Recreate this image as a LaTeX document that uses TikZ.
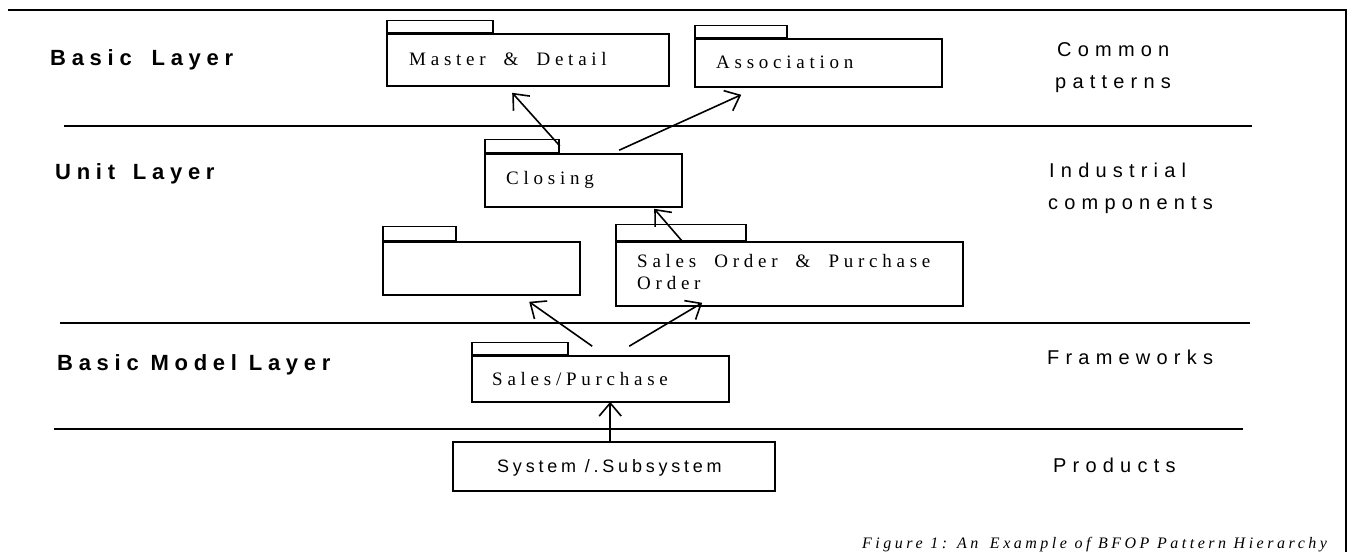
\documentclass[tikz,border=0pt]{standalone}
\usepackage{fontspec}
\setmainfont{Liberation Serif}
\newfontfamily\boxfont{Liberation Serif}[LetterSpace=25,WordSpace=1.9]
\newfontfamily\layerfont{Liberation Sans}[LetterSpace=26]
\newfontfamily\sidefont{Liberation Sans}[LetterSpace=31]
\newfontfamily\sysfont{Liberation Sans}[LetterSpace=21]
\newfontfamily\capfont{Liberation Serif}[LetterSpace=22]
\usetikzlibrary{arrows.meta}

\tikzset{
  rule/.style={line width=1.8pt},
  pkgbody/.style={draw, line width=1.6pt, rectangle, inner sep=0pt},
  pkgtab/.style={draw, line width=1.6pt, rectangle, inner sep=0pt, anchor=south west},
  boxtext/.style={anchor=base west, inner sep=0pt, font=\boxfont\fontsize{19pt}{22pt}\selectfont},
  layerlabel/.style={anchor=base west, inner sep=0pt, font=\layerfont\bfseries\fontsize{22pt}{25pt}\selectfont},
  sidelabel/.style={anchor=base west, inner sep=0pt, font=\sidefont\fontsize{20pt}{23pt}\selectfont},
  dep/.style={line width=1.6pt, -{Straight Barb[length=13pt,width=22pt,line width=1.6pt]}},
}

\begin{document}
\begin{tikzpicture}[x=1pt, y=-1pt]
  \useasboundingbox (0,0) rectangle (1353,552);

  % outer frame (top and right edges)
  \draw[rule] (8,10) -- (1346,10) -- (1346,552);

  % layer separators
  \draw[rule] (64,126) -- (1252,126);
  \draw[rule] (60,323) -- (1250,323);
  \draw[rule] (54,429) -- (1243,429);

  % layer names
  \node[layerlabel] (lbasic) at (50,65) {Basic\hspace{8pt} Layer};
  \node[layerlabel] (lunit) at (55,179) {Unit\hspace{6pt} Layer};
  \node[layerlabel] (lmodel) at (57,370) {Basic Model Layer};

  % layer descriptions
  \node[sidelabel] (dcommon) at (1057,56) {Common};
  \node[sidelabel] (dpatterns) at (1055,88) {patterns};
  \node[sidelabel] (dindustrial) at (1049,177) {Industrial};
  \node[sidelabel] (dcomponents) at (1048,209) {components};
  \node[sidelabel] (dframeworks) at (1047,364) {Frameworks};
  \node[sidelabel] (dproducts) at (1053,472) {Products};

  % packages: body + tab
  \node[pkgbody, minimum width=282pt, minimum height=52pt] (master) at (528,60) {};
  \node[pkgtab, minimum width=106pt, minimum height=12pt] (mastertab) at (master.north west) {};
  \node[boxtext] (mastertext) at (409,65) {Master \& Detail};

  \node[pkgbody, minimum width=247pt, minimum height=48pt] (assoc) at (818.5,63) {};
  \node[pkgtab, minimum width=92pt, minimum height=12pt] (assoctab) at (assoc.north west) {};
  \node[boxtext] (assoctext) at (716,68) {Association};

  \node[pkgbody, minimum width=197pt, minimum height=53pt] (closing) at (583.5,180.5) {};
  \node[pkgtab, minimum width=74pt, minimum height=13pt] (closingtab) at (closing.north west) {};
  \node[boxtext] (closingtext) at (506,184) {Closing};

  \node[pkgbody, minimum width=197pt, minimum height=53pt] (empty) at (481.5,268.5) {};
  \node[pkgtab, minimum width=73pt, minimum height=14pt] (emptytab) at (empty.north west) {};

  \node[pkgbody, minimum width=347pt, minimum height=64pt] (salesorder) at (789.5,274) {};
  \node[pkgtab, minimum width=130pt, minimum height=16pt] (salesordertab) at (salesorder.north west) {};
  \node[boxtext] (salesordertext) at (637,267) {Sales Order \& Purchase};
  \node[boxtext] (salesordertextb) at (637,289) {Order};

  \node[pkgbody, minimum width=257pt, minimum height=46pt] (salespurchase) at (600.5,379) {};
  \node[pkgtab, minimum width=96pt, minimum height=12pt] (salespurchasetab) at (salespurchase.north west) {};
  \node[boxtext] (salespurchasetext) at (492,385) {Sales/Purchase};

  % product box
  \node[pkgbody, minimum width=322pt, minimum height=49pt] (system) at (614,466.5) {};
  \node[anchor=base west, inner sep=0pt, font=\sysfont\fontsize{18pt}{21pt}\selectfont] (systemtext) at (497,472) {System /.Subsystem};

  % dependencies
  \draw[dep] (closingtab.east) -- ([xshift=126pt,yshift=-6pt]master.south west);
  \draw[dep] ([xshift=135pt,yshift=3pt]closing.north west) -- ([xshift=47pt,yshift=-7pt]assoc.south west);
  \draw[dep] ([xshift=67pt]salesorder.north west) -- ([xshift=170pt,yshift=-1pt]closing.south west);
  \draw[dep] ([xshift=121pt,yshift=9pt]salespurchase.north west) -- ([xshift=147pt,yshift=-6pt]empty.south west);
  \draw[dep] ([xshift=158pt,yshift=9pt]salespurchase.north west) -- ([xshift=87pt,yshift=4pt]salesorder.south west);
  \draw[dep] ([xshift=158pt]system.north west) -- ([xshift=139pt,yshift=1pt]salespurchase.south west);

  % caption
  \node[anchor=base west, inner sep=0pt, font=\capfont\itshape\fontsize{16pt}{19pt}\selectfont] (caption) at (862,548) {Figure 1: An\hspace{4pt} Example of BFOP Pattern Hierarchy};
\end{tikzpicture}
\end{document}
